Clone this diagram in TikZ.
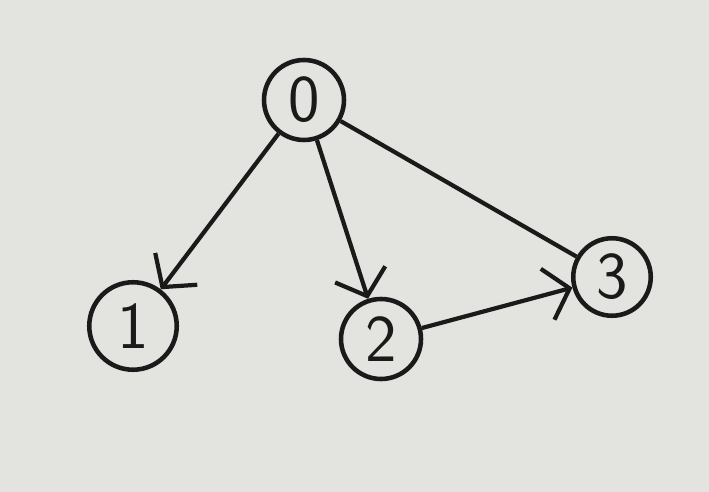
\documentclass[tikz,border=0pt]{standalone}
\usepackage{tikz}
\usetikzlibrary{arrows.meta}
\definecolor{paper}{HTML}{E3E3DF}
\definecolor{ink}{HTML}{1A1A1A}
\tikzset{
  vertex/.style={circle, draw=ink, line width=2.6pt, minimum size=2.2cm, inner sep=0pt,
    font=\fontsize{38}{38}\selectfont\sffamily, text=ink},
  arc/.style={draw=ink, line width=2.4pt, -{Straight Barb[length=13pt,width=30pt,line width=2.4pt]}},
  plain/.style={draw=ink, line width=2.4pt},
}
\begin{document}
\begin{tikzpicture}[x=0.02cm, y=-0.02cm]
  \fill[paper] (0,0) rectangle (709,492);
  \useasboundingbox (0,0) rectangle (709,492);
  \node[vertex, minimum size=1.6cm] (v0) at (304,100) {0};
  \node[vertex, minimum size=1.75cm] (v1) at (133,326) {1};
  \node[vertex, minimum size=1.6cm] (v2) at (381,339) {2};
  \node[vertex, minimum size=1.55cm] (v3) at (612,277) {3};
  \draw[arc] (v0) -- (v1);
  \draw[arc] (v0) -- (v2);
  \draw[arc] (v2) -- (v3);
  \draw[plain] (v0) -- (v3);
\end{tikzpicture}
\end{document}
